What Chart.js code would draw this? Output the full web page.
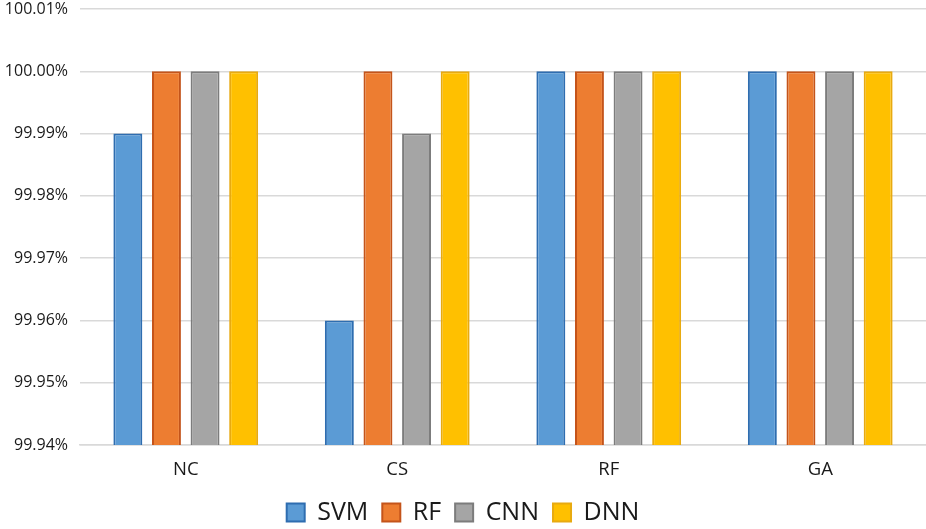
<!DOCTYPE html>
<html><head><meta charset="utf-8">
<script src="https://cdn.jsdelivr.net/npm/chart.js@4/dist/chart.umd.min.js"></script>
<style>html,body{margin:0;padding:0;background:#fff}#wrap{width:926px;height:529px}</style>
</head><body><div id="wrap"><canvas id="c"></canvas></div>
<script>
const categories = ['NC', 'CS', 'RF', 'GA'];
const svm = [99.99, 99.96, 100.00, 100.00];
const rf  = [100.00, 100.00, 100.00, 100.00];
const cnn = [100.00, 99.99, 100.00, 100.00];
const dnn = [100.00, 100.00, 100.00, 100.00];
const tickValues = [99.94, 99.95, 99.96, 99.97, 99.98, 99.99, 100.00, 100.01];

const mk = (label, data, fill, border) => ({label, data, backgroundColor: fill, borderColor: border, borderWidth: 2, borderSkipped: false});
const legendShift = {
  id: 'legendShift',
  afterLayout(chart) { if (chart.legend) { chart.legend.top += 6; chart.legend.bottom += 6; } }
};
new Chart(document.getElementById('c'), {
  type: 'bar',
  data: {
    labels: categories,
    datasets: [
      mk('SVM', svm, '#5B9BD5', '#2E6DB0'),
      mk('RF', rf, '#ED7D31', '#C4541A'),
      mk('CNN', cnn, '#A5A5A5', '#7C7C7C'),
      mk('DNN', dnn, '#FFC000', '#E8AA10')
    ]
  },
  plugins: [legendShift],
  options: {
    responsive: true, maintainAspectRatio: false, animation: false,
    layout: {padding: {top: 0, right: 0, left: 0, bottom: 0}},
    datasets: {bar: {categoryPercentage: 0.73, barPercentage: 0.75}},
    plugins: {
      tooltip: {enabled: false},
      legend: {position: 'bottom', labels: {font: {family: 'Open Sans', size: 25}, color: '#1a1a1a', boxWidth: 18, boxHeight: 18, padding: 14}}
    },
    scales: {
      x: {grid: {display: false, drawTicks: false}, border: {display: true, color: '#d9d9d9', width: 1.5},
          afterFit: s => { s.height = 35; },
          ticks: {font: {family: 'Open Sans', size: 18.5, lineHeight: 1}, color: '#1a1a1a', padding: 15}},
      y: {min: 99.94, max: 100.01,
          afterBuildTicks: ax => { ax.ticks = tickValues.map(v => ({value: v})); },
          afterFit: s => { s.width = 80; s.paddingTop = 9; s.paddingBottom = 9; },
          grid: {color: '#d9d9d9', lineWidth: 1.5, drawTicks: false},
          border: {display: false},
          ticks: {font: {family: 'Open Sans', size: 16}, color: '#1a1a1a', padding: 12,
                  callback: v => Number(v).toFixed(2) + '%'}}
    }
  }
});
</script></body></html>
